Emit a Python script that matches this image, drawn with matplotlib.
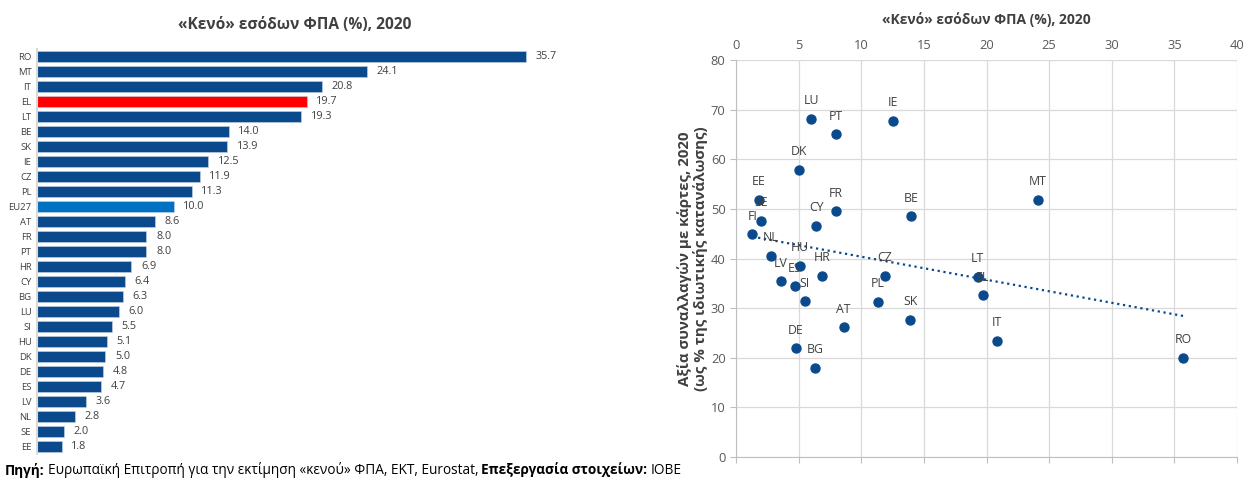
import numpy as np
import matplotlib
matplotlib.use("Agg")
import matplotlib.pyplot as plt

plt.rcParams['font.family'] = ['Open Sans', 'DejaVu Sans']

# --- Δεδομένα: «κενό» ΦΠΑ (%), 2020 ---
bar_countries = ['RO', 'MT', 'IT', 'EL', 'LT', 'BE', 'SK', 'IE', 'CZ', 'PL', 'EU27',
                 'AT', 'FR', 'PT', 'HR', 'CY', 'BG', 'LU', 'SI', 'HU', 'DK', 'DE',
                 'ES', 'LV', 'NL', 'SE', 'EE']
bar_values = [35.7, 24.1, 20.8, 19.7, 19.3, 14.0, 13.9, 12.5, 11.9, 11.3, 10.0,
              8.6, 8.0, 8.0, 6.9, 6.4, 6.3, 6.0, 5.5, 5.1, 5.0, 4.8,
              4.7, 3.6, 2.8, 2.0, 1.8]

# --- Δεδομένα διαγράμματος διασποράς ---
sc_countries = ['LU', 'PT', 'IE', 'DK', 'EE', 'SE', 'FI', 'CY', 'FR', 'BE', 'MT',
                'NL', 'HU', 'LV', 'ES', 'SI', 'HR', 'DE', 'BG', 'AT', 'PL', 'CZ',
                'SK', 'LT', 'EL', 'IT', 'RO']
sc_vat_gap = [6.0, 8.0, 12.5, 5.0, 1.8, 2.0, 1.3, 6.4, 8.0, 14.0, 24.1,
              2.8, 5.1, 3.6, 4.7, 5.5, 6.9, 4.8, 6.3, 8.6, 11.3, 11.9,
              13.9, 19.3, 19.7, 20.8, 35.7]
sc_cards = [68.1, 65.0, 67.8, 57.9, 51.8, 47.6, 44.9, 46.6, 49.5, 48.5, 51.8,
            40.5, 38.5, 35.4, 34.4, 31.4, 36.5, 21.9, 18.0, 26.1, 31.3, 36.5,
            27.6, 36.3, 32.6, 23.4, 20.0]

DARK_BLUE = '#0A4A8C'
GREY_TXT = '#404040'

W, H = 1252, 479
fig = plt.figure(figsize=(W / 100, H / 100), dpi=100)

# ---------------- Οριζόντιο ραβδόγραμμα ----------------
ax1 = fig.add_axes([37 / W, 0.0518, 583 / W, 0.846])
colors = []
for c in bar_countries:
    if c == 'EL':
        colors.append('#FF0000')
    elif c == 'EU27':
        colors.append('#0070C0')
    else:
        colors.append(DARK_BLUE)
ypos = np.arange(len(bar_countries))
ax1.barh(ypos, bar_values, height=0.72, color=colors, edgecolor='#C9D3E0', linewidth=0.4)
ax1.set_ylim(len(bar_countries) - 0.5, -0.5)
ax1.set_xlim(0, 42.6)
ax1.set_yticks(ypos)
ax1.set_yticklabels(bar_countries, fontsize=6.8, color=GREY_TXT)
ax1.tick_params(axis='y', length=0, pad=4)
ax1.set_xticks([])
for s in ['top', 'right', 'bottom']:
    ax1.spines[s].set_visible(False)
ax1.spines['left'].set_color('#D9D9D9')
ax1.spines['left'].set_linewidth(1.5)
for y, v in zip(ypos, bar_values):
    ax1.text(v + 0.7, y, f'{v:.1f}', va='center', ha='left', fontsize=7.8, color=GREY_TXT)
fig.text(295 / W, 1 - 25 / H, '«Κενό» εσόδων ΦΠΑ (%), 2020', ha='center', va='center',
         fontsize=11.2, fontweight='bold', color=GREY_TXT)

# ---------------- Διάγραμμα διασποράς ----------------
ax2 = fig.add_axes([736 / W, 22 / H, 501 / W, 397 / H])
ax2.set_xlim(0, 40)
ax2.set_ylim(0, 80)
ax2.set_xticks(np.arange(0, 41, 5))
ax2.set_yticks(np.arange(0, 81, 10))
ax2.grid(True, color='#D9D9D9', linewidth=0.9)
ax2.set_axisbelow(True)
for s in ['top', 'right']:
    ax2.spines[s].set_visible(False)
for s in ['left', 'bottom']:
    ax2.spines[s].set_color('#BFBFBF')
ax2.tick_params(axis='both', colors='#BFBFBF', labelcolor='#595959', labelsize=9.3, length=4)
ax2.tick_params(axis='x', labeltop=True, labelbottom=False, pad=2)
ax2.tick_params(axis='x', which='both', top=False, bottom=True)

ax2.scatter(sc_vat_gap, sc_cards, s=42, color=DARK_BLUE, zorder=3)
for name, x, y in zip(sc_countries, sc_vat_gap, sc_cards):
    ax2.annotate(name, (x, y), xytext=(0, 13), textcoords='offset points',
                 ha='center', va='center', fontsize=8.8, color=GREY_TXT, zorder=4)

# γραμμή τάσης
k, b = np.polyfit(sc_vat_gap, sc_cards, 1)
xs = np.array([min(sc_vat_gap), max(sc_vat_gap)])
ax2.plot(xs, k * xs + b, linestyle=':', color=DARK_BLUE, linewidth=1.6, zorder=2)

ax2.set_ylabel('Αξία συναλλαγών με κάρτες, 2020\n(ως % της ιδιωτικής κατανάλωσης)',
               fontsize=10.8, fontweight='bold', color=GREY_TXT, labelpad=2, linespacing=1.05)
fig.text(986 / W, 1 - 20 / H, '«Κενό» εσόδων ΦΠΑ (%), 2020', ha='center', va='center',
         fontsize=10, fontweight='bold', color=GREY_TXT)

# ---------------- Πηγή ----------------
src_y = 1 - 470 / H
fs = 9.8
t = fig.text(5 / W, src_y, 'Πηγή:', ha='left', va='center', fontsize=fs, fontweight='bold')
fig.canvas.draw()
r = fig.canvas.get_renderer()
x0 = t.get_window_extent(r).x1 + 3
t2 = fig.text(x0 / W, src_y, 'Ευρωπαϊκή Επιτροπή για την εκτίμηση «κενού» ΦΠΑ, ΕΚΤ, Eurostat,',
              ha='left', va='center', fontsize=fs)
x1 = t2.get_window_extent(r).x1 + 3
t3 = fig.text(x1 / W, src_y, 'Επεξεργασία στοιχείων:', ha='left', va='center', fontsize=fs,
              fontweight='bold')
x2 = t3.get_window_extent(r).x1 + 3
fig.text(x2 / W, src_y, 'ΙΟΒΕ', ha='left', va='center', fontsize=fs)

fig.savefig('out.png', dpi=100)
